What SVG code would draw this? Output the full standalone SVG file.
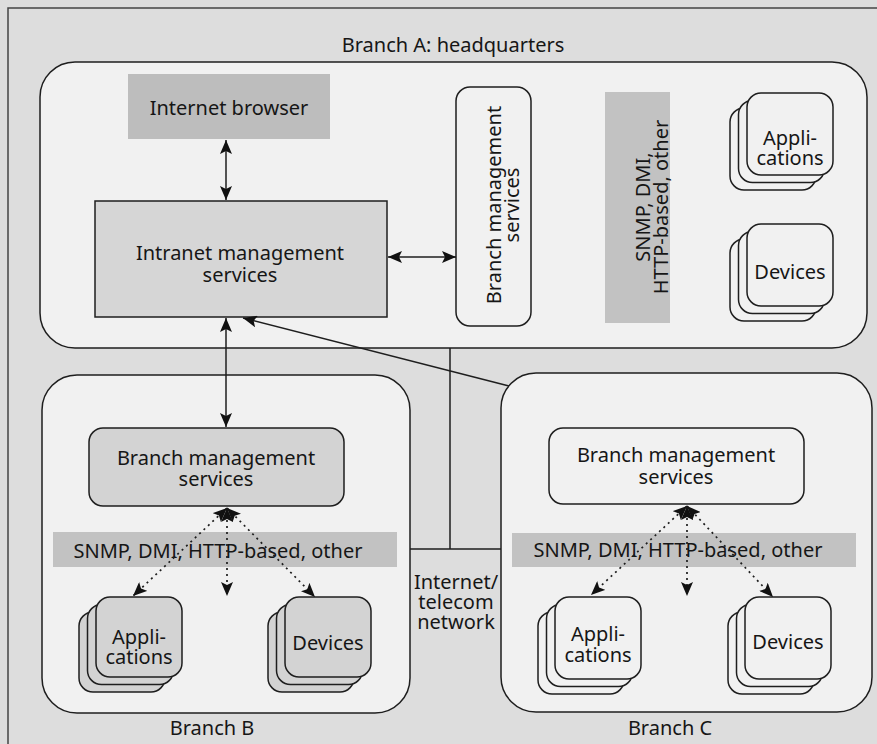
<svg xmlns="http://www.w3.org/2000/svg" width="877" height="744" viewBox="0 0 877 744">
<defs>
<style>
.t{font-family:"Noto Sans","Open Sans","DejaVu Sans",sans-serif;font-size:20px;fill:#161616;text-anchor:middle}
.box{stroke:#1e1e1e;stroke-width:1.5}
.conn{stroke:#1e1e1e;stroke-width:1.5;fill:none}
.dot{stroke:#1e1e1e;stroke-width:1.7;stroke-dasharray:2 4;fill:none}
.white{fill:#f1f1f1}
.gray{fill:#d3d3d3}
.band{fill:#c2c2c2}
</style>
<marker id="ah" viewBox="0 0 14 12" refX="14" refY="6" markerWidth="14" markerHeight="12" markerUnits="userSpaceOnUse" orient="auto-start-reverse">
<path d="M0,0 L14,6 L0,12 L3,6 z" fill="#111"/>
</marker>
</defs>

<rect x="0" y="0" width="877" height="744" fill="#dddddd"/>
<path d="M8,744 L8,8 L877,8" fill="none" stroke="#444" stroke-width="1.5"/>

<g id="branchA">
<text class="t" x="453" y="52">Branch A: headquarters</text>
<rect class="box white" x="40" y="62" width="827" height="286" rx="35"/>
</g>

<g id="branchB">
<rect class="box white" x="42" y="375" width="368" height="338" rx="35"/>
<text class="t" x="212" y="735">Branch B</text>
</g>

<g id="branchC">
<rect class="box white" x="501" y="373" width="371" height="339" rx="35"/>
<text class="t" x="670" y="735">Branch C</text>
</g>

<g id="internet-browser">
<rect x="128" y="74" width="202" height="65" fill="#bdbdbd"/>
<text class="t" x="229" y="115">Internet browser</text>
</g>

<g id="intranet-mgmt">
<rect class="box" x="95" y="201" width="292" height="116" fill="#d6d6d6"/>
<text class="t" x="240" y="260">Intranet management</text>
<text class="t" x="240" y="282">services</text>
</g>

<g id="branchA-mgmt">
<rect class="box white" x="456" y="87" width="75" height="239" rx="14"/>
<text class="t" transform="translate(501,205) rotate(-90)">Branch management</text>
<text class="t" transform="translate(519,205) rotate(-90)">services</text>
</g>

<g id="branchA-protocols">
<rect class="band" x="605" y="92" width="65" height="231"/>
<text class="t" transform="translate(650,207) rotate(-90)">SNMP, DMI,</text>
<text class="t" transform="translate(668,207) rotate(-90)">HTTP-based, other</text>
</g>

<g id="branchA-apps">
<rect class="box white" x="730" y="108" width="86" height="82" rx="14"/>
<rect class="box white" x="738.5" y="100.5" width="86" height="82" rx="14"/>
<rect class="box white" x="747" y="93" width="86" height="82" rx="14"/>
<text class="t" x="790" y="145">Appli-</text>
<text class="t" x="790" y="165">cations</text>
</g>

<g id="branchA-devices">
<rect class="box white" x="730" y="239" width="86" height="82" rx="14"/>
<rect class="box white" x="738.5" y="231.5" width="86" height="82" rx="14"/>
<rect class="box white" x="747" y="224" width="86" height="82" rx="14"/>
<text class="t" x="790" y="279">Devices</text>
</g>

<g id="branchB-mgmt">
<rect class="box gray" x="89" y="428" width="255" height="78" rx="14"/>
<text class="t" x="216" y="465">Branch management</text>
<text class="t" x="216" y="486">services</text>
</g>

<g id="branchB-protocols">
<rect class="band" x="53" y="532" width="344" height="35"/>
<text class="t" x="218" y="558">SNMP, DMI, HTTP-based, other</text>
</g>

<g id="branchB-apps">
<rect class="box gray" x="79" y="612" width="86" height="80" rx="14"/>
<rect class="box gray" x="87.5" y="604.5" width="86" height="80" rx="14"/>
<rect class="box gray" x="96" y="597" width="86" height="80" rx="14"/>
<text class="t" x="139" y="644">Appli-</text>
<text class="t" x="139" y="664">cations</text>
</g>

<g id="branchB-devices">
<rect class="box gray" x="268" y="612" width="86" height="80" rx="14"/>
<rect class="box gray" x="276.5" y="604.5" width="86" height="80" rx="14"/>
<rect class="box gray" x="285" y="597" width="86" height="80" rx="14"/>
<text class="t" x="328" y="650">Devices</text>
</g>

<g id="branchC-mgmt">
<rect class="box white" x="549" y="428" width="255" height="76" rx="14"/>
<text class="t" x="676" y="462">Branch management</text>
<text class="t" x="676" y="484">services</text>
</g>

<g id="branchC-protocols">
<rect class="band" x="512" y="533" width="344" height="34"/>
<text class="t" x="678" y="557">SNMP, DMI, HTTP-based, other</text>
</g>

<g id="branchC-apps">
<rect class="box white" x="538" y="612" width="86" height="82" rx="14"/>
<rect class="box white" x="546.5" y="604.5" width="86" height="82" rx="14"/>
<rect class="box white" x="555" y="597" width="86" height="82" rx="14"/>
<text class="t" x="598" y="641">Appli-</text>
<text class="t" x="598" y="662">cations</text>
</g>

<g id="branchC-devices">
<rect class="box white" x="728" y="612" width="86" height="82" rx="14"/>
<rect class="box white" x="736.5" y="604.5" width="86" height="82" rx="14"/>
<rect class="box white" x="745" y="597" width="86" height="82" rx="14"/>
<text class="t" x="788" y="649">Devices</text>
</g>

<g id="network">
<text class="t" x="456" y="589">Internet/</text>
<text class="t" x="456" y="609">telecom</text>
<text class="t" x="456" y="629">network</text>
</g>

<g id="connectors">
<path class="conn" d="M450,348 L450,549 M410,549 L501,549"/>
<line class="conn" x1="226" y1="140" x2="226" y2="200" marker-start="url(#ah)" marker-end="url(#ah)"/>
<line class="conn" x1="388" y1="257" x2="456" y2="257" marker-start="url(#ah)" marker-end="url(#ah)"/>
<line class="conn" x1="226" y1="318" x2="226" y2="427" marker-start="url(#ah)" marker-end="url(#ah)"/>
<line class="conn" x1="509" y1="386" x2="243" y2="318" marker-end="url(#ah)"/>
<line class="dot" x1="227" y1="508" x2="133" y2="596" marker-start="url(#ah)" marker-end="url(#ah)"/>
<line class="dot" x1="227" y1="508" x2="227" y2="596" marker-start="url(#ah)" marker-end="url(#ah)"/>
<line class="dot" x1="227" y1="508" x2="315" y2="597" marker-start="url(#ah)" marker-end="url(#ah)"/>
<line class="dot" x1="687" y1="506" x2="591" y2="595" marker-start="url(#ah)" marker-end="url(#ah)"/>
<line class="dot" x1="687" y1="506" x2="687" y2="596" marker-start="url(#ah)" marker-end="url(#ah)"/>
<line class="dot" x1="687" y1="506" x2="773" y2="597" marker-start="url(#ah)" marker-end="url(#ah)"/>
</g>
</svg>
